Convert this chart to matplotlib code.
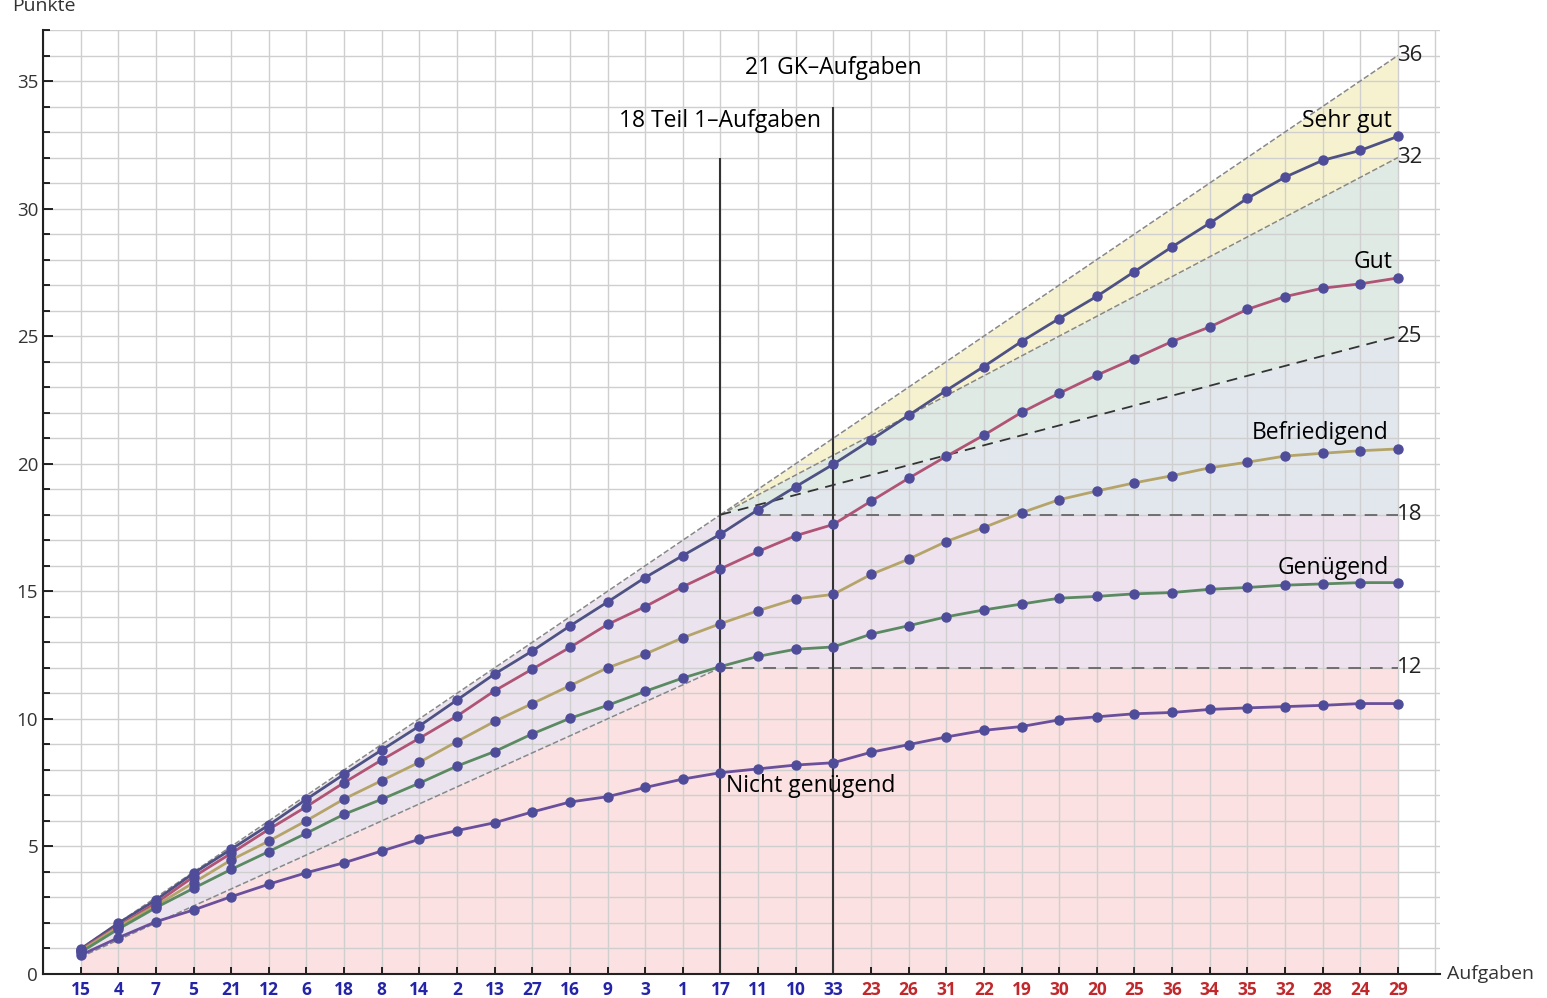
import matplotlib
matplotlib.use("Agg")
import matplotlib.pyplot as plt
import numpy as np

plt.rcParams['font.family'] = ['Open Sans', 'DejaVu Sans']

# task numbers along the x axis (first 21 = GK tasks, blue; rest red)
aufgaben = [15, 4, 7, 5, 21, 12, 6, 18, 8, 14, 2, 13, 27, 16, 9, 3, 1, 17,
            11, 10, 33, 23, 26, 31, 22, 19, 30, 20, 25, 36, 34, 35, 32, 28, 24, 29]
n_gk = 21

sehr_gut = [0.98, 1.99, 2.9, 3.95, 4.89, 5.84, 6.85, 7.83, 8.78, 9.72, 10.74, 11.76,
            12.66, 13.64, 14.58, 15.54, 16.4, 17.24, 18.2, 19.1, 19.98, 20.93, 21.9, 22.87,
            23.81, 24.79, 25.69, 26.56, 27.53, 28.5, 29.43, 30.4, 31.23, 31.89, 32.28, 32.83]
gut = [0.95, 1.88, 2.78, 3.81, 4.73, 5.67, 6.56, 7.5, 8.39, 9.24, 10.11, 11.1,
       11.95, 12.8, 13.7, 14.4, 15.18, 15.88, 16.56, 17.18, 17.62, 18.53, 19.43, 20.29,
       21.12, 22.01, 22.76, 23.47, 24.12, 24.79, 25.36, 26.05, 26.55, 26.88, 27.05, 27.28]
befriedigend = [0.9, 1.84, 2.68, 3.58, 4.47, 5.21, 6.01, 6.86, 7.58, 8.3, 9.11, 9.9,
                10.6, 11.3, 12.0, 12.54, 13.18, 13.73, 14.24, 14.7, 14.88, 15.66, 16.26, 16.95,
                17.5, 18.08, 18.59, 18.93, 19.25, 19.53, 19.84, 20.06, 20.3, 20.41, 20.51, 20.58]
genuegend = [0.85, 1.76, 2.6, 3.36, 4.1, 4.8, 5.52, 6.26, 6.85, 7.48, 8.15, 8.72,
             9.41, 10.02, 10.53, 11.08, 11.6, 12.05, 12.45, 12.73, 12.82, 13.32, 13.65, 14.0,
             14.27, 14.5, 14.73, 14.8, 14.9, 14.95, 15.08, 15.15, 15.24, 15.29, 15.34, 15.34]
nicht_genuegend = [0.74, 1.42, 2.05, 2.51, 3.03, 3.52, 3.97, 4.36, 4.82, 5.28, 5.62, 5.93,
                   6.35, 6.74, 6.95, 7.31, 7.64, 7.89, 8.04, 8.19, 8.28, 8.69, 8.99, 9.29,
                   9.55, 9.7, 9.96, 10.08, 10.2, 10.25, 10.37, 10.43, 10.48, 10.53, 10.6, 10.6]

# grade thresholds at the end (36 points max) and after Teil 1 (18 tasks)
grenzen_ende = [36, 32, 25, 18, 12]
teil1 = 18

x = np.arange(1, len(aufgaben) + 1)

fig = plt.figure(figsize=(15.47, 9.98), dpi=100)
ax = fig.add_axes([43/1547, 24/998, 1397/1547, 944/998])

# --- shaded grade regions
xl = np.linspace(1, teil1, 50)
xr = np.linspace(teil1, len(aufgaben), 50)
t = (xr - teil1) / (len(aufgaben) - teil1)
def band(top):
    return teil1 + t*(top - teil1)

ax.fill_between(xl, 0, xl*12/18, color='#fbe1e1', lw=0, zorder=0.2)
ax.fill_between(xl, xl*12/18, xl, color='#ebe4ef', lw=0, zorder=0.2)
ax.fill_between(xr, 0, 12, color='#fbe1e1', lw=0, zorder=0.2)
ax.fill_between(xr, 12, 18, color='#eee2ef', lw=0, zorder=0.2)
ax.fill_between(xr, 18, band(25), color='#e2e7ee', lw=0, zorder=0.2)
ax.fill_between(xr, band(25), band(32), color='#e0eae4', lw=0, zorder=0.2)
ax.fill_between(xr, band(32), band(36), color='#f6f2cf', lw=0, zorder=0.2)

# --- dashed threshold lines
ax.plot([1, teil1], [1, teil1], ls='--', color='#888888', lw=1.1, zorder=1)
ax.plot([1, teil1], [12/18, 12], ls='--', color='#888888', lw=1.1, zorder=1)
ax.plot([teil1, 36], [teil1, 36], ls='--', color='#888888', lw=1.1, zorder=1)
ax.plot([teil1, 36], [teil1, 32], ls='--', color='#888888', lw=1.1, zorder=1)
ax.plot([teil1, 36], [teil1, 25], ls=(0, (6, 4)), color='#333333', lw=1.3, zorder=1)
ax.plot([19, 36], [18, 18], ls=(0, (7, 5)), color='#666666', lw=1.3, zorder=1)
ax.plot([teil1, 36], [12, 12], ls=(0, (7, 5)), color='#666666', lw=1.3, zorder=1)
for g in grenzen_ende:
    ax.text(35.98, g, str(g), fontsize=16, va='center', ha='left', color='#222222')

# --- series
serien = [(sehr_gut, '#4e5283', 'Sehr gut'), (gut, '#b05476', 'Gut'),
          (befriedigend, '#b5a46a', 'Befriedigend'), (genuegend, '#5b8a62', 'Genügend'),
          (nicht_genuegend, '#6a4f9c', 'Nicht genügend')]
for werte, farbe, name in serien:
    ax.plot(x, werte, color=farbe, lw=2, zorder=3)
    ax.plot(x, werte, 'o', color='#4f4d9a', ms=6.5, zorder=4)

fs = 16.5
ax.text(35.85, 33.45, 'Sehr gut', fontsize=fs, ha='right', va='center')
ax.text(35.85, 27.9, 'Gut', fontsize=fs, ha='right', va='center')
ax.text(35.75, 21.2, 'Befriedigend', fontsize=fs, ha='right', va='center')
ax.text(35.75, 15.9, 'Genügend', fontsize=fs, ha='right', va='center')
ax.text(18.15, 7.35, 'Nicht genügend', fontsize=fs, ha='left', va='center')

# --- task block markers
ax.vlines(18, 0, 32, color='#333333', lw=1.5, zorder=2)
ax.vlines(21, 0, 34, color='#333333', lw=1.5, zorder=2)
ax.text(18, 33.45, '18 Teil 1\u2013Aufgaben', fontsize=fs, ha='center', va='center')
ax.text(21, 35.5, '21 GK\u2013Aufgaben', fontsize=fs, ha='center', va='center')

# --- axes
ax.set_xlim(0, 37.12)
ax.set_ylim(0, 37)
ax.set_xticks(x)
ax.set_xticklabels([str(a) for a in aufgaben], fontsize=12.5, fontweight='bold')
for i, lab in enumerate(ax.get_xticklabels()):
    lab.set_color('#2424a8' if i < n_gk else '#c0282c')
ax.set_yticks(range(0, 36, 5))
ax.set_yticks(range(0, 38), minor=True)
ax.tick_params(axis='y', labelsize=13.5, labelcolor='#333333', direction='in', length=7, width=1.2)
ax.tick_params(axis='y', which='minor', direction='in', length=5, width=1.2)
ax.tick_params(axis='x', direction='in', length=5, width=1.2, pad=5)
ax.set_xticks(np.arange(0, 38), minor=True)
ax.tick_params(axis='x', which='minor', length=0)

ax.set_axisbelow(True)
ax.grid(which='minor', color='#cfcfcf', lw=1)
ax.grid(which='major', color='#cfcfcf', lw=1)
for s in ['top', 'right']:
    ax.spines[s].set_visible(False)
for s in ['left', 'bottom']:
    ax.spines[s].set_linewidth(1.5)
    ax.spines[s].set_color('#222222')

fig.text(1447/1547, 24/998, 'Aufgaben', fontsize=14, ha='left', va='center', color='#333333')
fig.text(12/1547, 1 - 6/998, 'Punkte', fontsize=14, ha='left', va='center', color='#333333')

fig.savefig('out.png', dpi=100)
